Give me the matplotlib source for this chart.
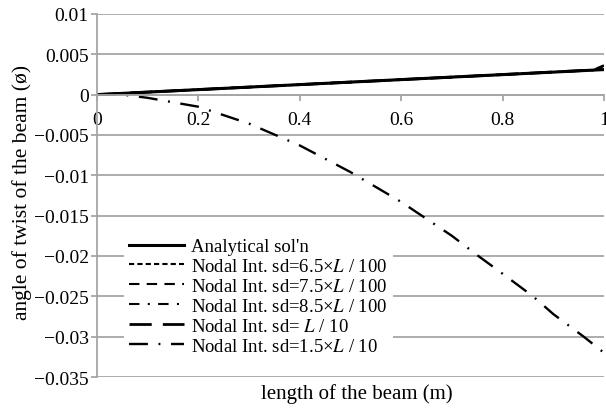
import matplotlib
matplotlib.use("Agg")
import matplotlib.pyplot as plt

plt.rcParams['font.family'] = ['Liberation Serif', 'DejaVu Serif']
plt.rcParams['mathtext.fontset'] = 'stix'

x_vals = [0.0, 0.1, 0.2, 0.3, 0.4, 0.5, 0.6, 0.7, 0.8, 0.9, 0.98, 1.0]
analytical = [0.0, 0.00031, 0.00062, 0.00093, 0.00124, 0.00155, 0.00186, 0.00217, 0.00248, 0.00279, 0.00304, 0.0031]
sd_65 = [0.0, 0.00031, 0.00062, 0.00093, 0.00124, 0.00155, 0.00186, 0.00217, 0.00248, 0.00278, 0.00303, 0.0033]
sd_75 = [0.0, 0.00031, 0.00062, 0.00093, 0.00124, 0.00155, 0.00186, 0.00217, 0.00248, 0.00279, 0.00304, 0.0035]
sd_85 = [0.0, 0.00031, 0.00062, 0.00093, 0.00124, 0.00155, 0.00186, 0.00217, 0.00248, 0.00279, 0.00304, 0.0034]
sd_10 = [0.0, 0.00031, 0.00062, 0.00093, 0.00124, 0.00155, 0.00186, 0.00217, 0.00248, 0.00280, 0.00305, 0.0036]

x_15 = [0.0, 0.05, 0.1, 0.2, 0.3, 0.4, 0.5, 0.6, 0.7, 0.75, 0.8, 0.86, 0.9, 0.96, 1.0]
sd_15 = [0.0, 0.0, -0.0004, -0.0015, -0.0036, -0.0063, -0.0096, -0.0133, -0.0175, -0.0199, -0.0222, -0.025, -0.0272, -0.0300, -0.0320]

labels = ["Analytical sol'n",
          "Nodal Int. sd=6.5×$L$ / 100",
          "Nodal Int. sd=7.5×$L$ / 100",
          "Nodal Int. sd=8.5×$L$ / 100",
          "Nodal Int. sd= $L$ / 10",
          "Nodal Int. sd=1.5×$L$ / 10"]

fig = plt.figure(figsize=(6.06, 4.10), dpi=100)
ax = fig.add_axes([0.160, 0.078, 0.8367, 0.8856])

k = 'black'
ax.plot(x_vals, analytical, color=k, lw=2.2, ls='-', label=labels[0])
ax.plot(x_vals, sd_65, color=k, lw=1.5, ls=(0, (2.5, 1.5)), label=labels[1])
ax.plot(x_vals, sd_75, color=k, lw=1.5, ls=(0, (5, 3.5)), label=labels[2])
ax.plot(x_vals, sd_85, color=k, lw=1.5, ls=(0, (5, 4, 1, 4)), label=labels[3])
ax.plot(x_vals, sd_10, color=k, lw=2.0, ls=(0, (8, 4)), label=labels[4])
ax.plot(x_15, sd_15, color=k, lw=1.7, ls=(0, (8, 4.5, 0.8, 4.5)), label=labels[5])

gc = '#a6a6a6'
ax.set_xlim(0, 1)
ax.set_ylim(-0.035, 0.01)
ax.set_yticks([0.01, 0.005, 0, -0.005, -0.01, -0.015, -0.02, -0.025, -0.03, -0.035])
ax.set_yticklabels(['0.01', '0.005', '0', '−0.005', '−0.01', '−0.015', '−0.02', '−0.025', '−0.03', '−0.035'])
ax.set_xticks([0, 0.2, 0.4, 0.6, 0.8, 1.0])
ax.set_xticklabels(['0', '0.2', '0.4', '0.6', '0.8', '1'])
ax.grid(axis='y', color=gc, lw=1.3)
ax.set_axisbelow(True)
for s in ['top', 'right']:
    ax.spines[s].set_visible(False)
ax.spines['left'].set_color(gc)
ax.spines['left'].set_linewidth(1.3)
ax.spines['bottom'].set_position(('data', 0))
ax.spines['bottom'].set_color(gc)
ax.spines['bottom'].set_linewidth(1.3)
ax.tick_params(axis='both', colors=gc, width=1.3, length=4, labelsize=14, labelcolor='black')
ax.tick_params(axis='y', pad=2)
ax.tick_params(axis='x', pad=8)

ax.set_xlabel('length of the beam (m)', fontsize=15)
ax.set_ylabel('angle of twist of the beam (ø)', fontsize=15.5)
ax.xaxis.set_label_coords(0.512, -0.018)
ax.yaxis.set_label_coords(-0.128, 0.51)

leg = ax.legend(loc='lower left', bbox_to_anchor=(0.034, 0.02), fontsize=13.5,
                frameon=True, facecolor='white', edgecolor='none', framealpha=1,
                handlelength=2.9, handletextpad=0.37, labelspacing=0.15, borderpad=0.3)
leg.get_frame().set_boxstyle('square', pad=0)
fig.savefig('out.png', dpi=100)
